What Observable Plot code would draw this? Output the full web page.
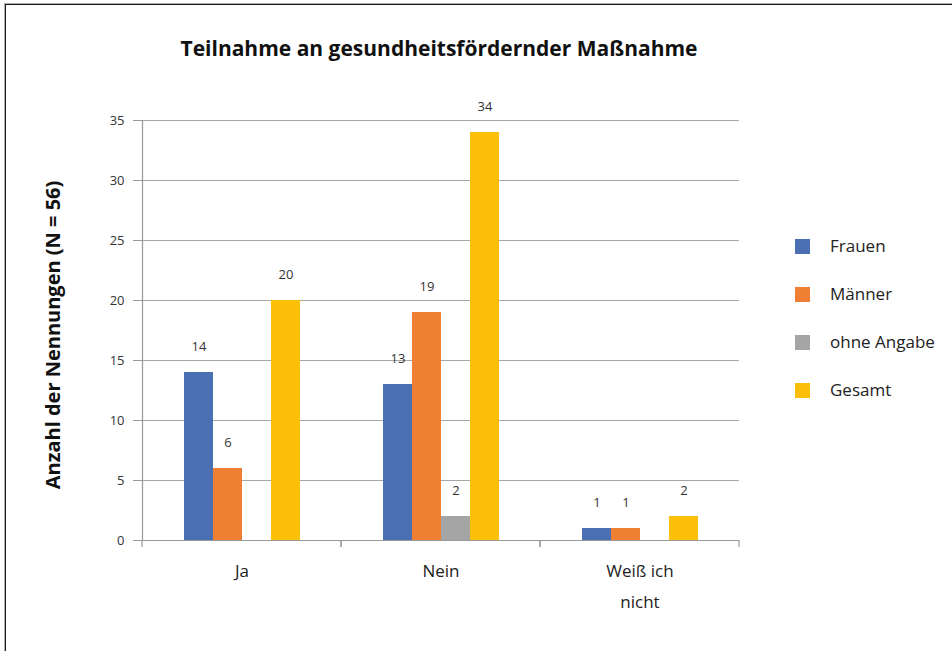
<!DOCTYPE html>
<html>
<head>
<meta charset="utf-8">
<script src="https://cdn.jsdelivr.net/npm/d3@7"></script>
<script src="https://cdn.jsdelivr.net/npm/@observablehq/plot@0.6"></script>
<style>
  body { margin: 0; background: #fff; font-family: "Open Sans", sans-serif; }
  #wrap { position: relative; width: 952px; height: 651px; overflow: hidden; }
  #border { position: absolute; left: 5px; top: 4px; width: 1000px; height: 700px; border: 1px solid #1a1a1a; box-sizing: border-box; box-shadow: -1px -1px 0 #b0b0b0; }
  #title { position: absolute; left: 0; width: 878px; top: 34px; text-align: center; font-weight: bold; font-size: 21px; color: #111; }
  #ylabel { position: absolute; left: 52px; top: 335px; transform: translate(-50%, -50%) rotate(-90deg); white-space: nowrap; font-weight: bold; font-size: 20px; color: #111; }
  #legend { position: absolute; left: 795px; top: 239px; }
  .item { position: relative; height: 48px; }
  .sw { position: absolute; left: 0; top: 0; width: 15px; height: 15px; }
  .lab { position: absolute; left: 35px; top: -4px; font-size: 17px; line-height: 22px; color: #222; white-space: nowrap; }
  #chart { position: absolute; left: 0; top: 0; }
</style>
</head>
<body>
<div id="wrap">
  <div id="border"></div>
  <div id="chart"></div>
  <div id="title"></div>
  <div id="ylabel"></div>
  <div id="legend"></div>
</div>
<script>
const titleText = "Teilnahme an gesundheitsfördernder Maßnahme";
const yLabel = "Anzahl der Nennungen (N = 56)";
const categories = ["Ja", "Nein", "Weiß ich nicht"];
const series = ["Frauen", "Männer", "ohne Angabe", "Gesamt"];
const frauen = [14, 13, 1];
const maenner = [6, 19, 1];
const ohneAngabe = [null, 2, null];
const gesamt = [20, 34, 2];
const yTicks = [0, 5, 10, 15, 20, 25, 30, 35];
const colors = ["#4a70b3", "#ee7f33", "#a5a5a5", "#fbbf08"];

const seriesValues = [frauen, maenner, ohneAngabe, gesamt];
const data = categories.flatMap((c, i) =>
  series.map((s, j) => ({category: c, series: s, value: seriesValues[j][i]}))
).filter(d => d.value != null);

document.getElementById("title").textContent = titleText;
document.getElementById("ylabel").textContent = yLabel;
const legend = document.getElementById("legend");
series.forEach((s, j) => {
  const it = document.createElement("div");
  it.className = "item";
  it.innerHTML = `<div class="sw" style="background:${colors[j]}"></div><div class="lab"></div>`;
  it.querySelector(".lab").textContent = s;
  legend.appendChild(it);
});

const boundaryTicks = (index, scales, values, dims) => {
  const g = d3.create("svg:g");
  const y0 = scales.y(0);
  const a = dims.marginLeft, b = dims.width - dims.marginRight;
  for (const x of [a, b]) {
    g.append("line").attr("x1", x).attr("x2", x).attr("y1", y0).attr("y2", y0 + 7)
      .attr("stroke", "#999").attr("stroke-width", 1.2);
  }
  return g.node();
};

const chart = Plot.plot({
  width: 952,
  height: 651,
  marginLeft: 141,
  marginRight: 212,
  marginTop: 120,
  marginBottom: 111,
  style: {fontFamily: "Open Sans, sans-serif", fontSize: "13px", color: "#333", background: "transparent"},
  fx: {domain: categories, paddingInner: 0, paddingOuter: 0, label: null},
  x: {domain: series, paddingInner: 0, paddingOuter: 1.3333, axis: null},
  y: {domain: [0, 35], label: null},
  color: {domain: series, range: colors},
  marks: [
    Plot.gridY(yTicks, {stroke: "#a6a6a6", strokeOpacity: 1, strokeWidth: 1.2}),
    Plot.axisY(yTicks, {tickSize: 9, tickPadding: 9, stroke: "#999", fill: "#333", fontSize: 13, label: null}),
    Plot.frame({anchor: "left", facetAnchor: "left", stroke: "#999", strokeWidth: 1.2}),
    Plot.ruleY([0], {stroke: "#999", strokeWidth: 1.2}),
    boundaryTicks,
    Plot.barY(data, {fx: "category", x: "series", y: "value", fill: "series"}),
    Plot.text(data, {fx: "category", x: "series", y: "value", text: d => String(d.value), dy: -26, fontSize: 13, fill: "#333"}),
    Plot.axisFx({anchor: "bottom", tickSize: 0, tickPadding: 15, fontSize: 17, lineHeight: 1.8, fill: "#222", label: null,
      tickFormat: d => d.replace("ich ", "ich\n")})
  ]
});
document.getElementById("chart").appendChild(chart);
</script>
</body>
</html>
